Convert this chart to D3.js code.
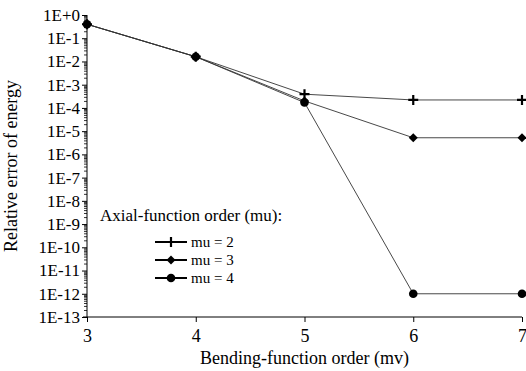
<!DOCTYPE html>
<html>
<head>
<meta charset="utf-8">
<script src="https://cdn.jsdelivr.net/npm/d3@7"></script>
<style>
  body { margin: 0; background: #fff; }
  svg text { font-family: 'Liberation Serif', 'DejaVu Serif', 'Times New Roman', serif; fill: #000; }
  .axis path, .axis line { stroke: #000; }
</style>
</head>
<body>
<div id="chart"></div>
<script>
// bending-function order (mv)
var orders = [3, 4, 5, 6, 7];
// relative error of energy, one list per axial order
var mu2 = [4e-1, 1.6e-2, 3.9e-4, 2.2e-4, 2.2e-4];
var mu3 = [4e-1, 1.6e-2, 2.0e-4, 5.2e-6, 5.2e-6];
var mu4 = [4e-1, 1.6e-2, 1.7e-4, 1e-12, 1e-12];
var seriesNames = ['mu = 2', 'mu = 3', 'mu = 4'];
var yTickLabels = ['1E+0', '1E-1', '1E-2', '1E-3', '1E-4', '1E-5', '1E-6',
                   '1E-7', '1E-8', '1E-9', '1E-10', '1E-11', '1E-12', '1E-13'];

var width = 526, height = 371;
var margin = {top: 15, right: 4, bottom: 54, left: 87};
var chartWidth = width - margin.left - margin.right;
var chartHeight = height - margin.top - margin.bottom;
var fontSize = 18;

var svg = d3.select('#chart').append('svg')
    .attr('width', width)
    .attr('height', height)
  .append('g')
    .attr('transform', `translate(${margin.left}, ${margin.top})`);

var xScale = d3.scaleLinear()
    .domain([3, 7])
    .range([0, chartWidth]);

var yScale = d3.scaleLog()
    .domain([1e-13, 1])
    .range([chartHeight, 0]);

var majors = yTickLabels.map((d, i) => Math.pow(10, -i));

// minor log ticks between decades
var minors = [];
majors.slice(1).forEach(function(m) {
  for (var k = 2; k <= 9; k++) minors.push(m * k);
});

svg.append('g')
  .attr('class', 'y axis minor')
  .call(d3.axisLeft(yScale).tickValues(minors).tickSize(3).tickFormat(''))
  .call(g => g.select('.domain').remove())
  .selectAll('line').attr('stroke-width', 0.8);

var yAxis = d3.axisLeft(yScale)
    .tickValues(majors)
    .tickSize(5)
    .tickPadding(2)
    .tickFormat((d, i) => yTickLabels[i]);

svg.append('g')
  .attr('class', 'y axis')
  .call(yAxis)
  .call(g => g.selectAll('text').attr('font-size', 17))
  .call(g => g.select('.domain').attr('d', `M0,0V${chartHeight}`));

var xAxis = d3.axisBottom(xScale)
    .tickValues(orders)
    .tickSize(5)
    .tickPadding(7)
    .tickFormat(d3.format('d'));

svg.append('g')
  .attr('class', 'x axis')
  .attr('transform', `translate(0, ${chartHeight})`)
  .call(xAxis)
  .call(g => g.selectAll('text').attr('font-size', fontSize))
  .call(g => g.select('.domain').attr('d', `M-4,0H${chartWidth}`));

svg.append('text')
  .attr('x', chartWidth / 2)
  .attr('y', chartHeight + 47)
  .attr('text-anchor', 'middle')
  .attr('font-size', fontSize)
  .text('Bending-function order (mv)');

svg.append('text')
  .attr('transform', `translate(-70, ${chartHeight / 2}) rotate(-90)`)
  .attr('text-anchor', 'middle')
  .attr('font-size', fontSize)
  .text('Relative error of energy');

var series = [mu2, mu3, mu4];

var line = d3.line()
    .x((d, i) => xScale(orders[i]))
    .y(d => yScale(d));

// thin lines first, then markers on top
series.forEach(function(values) {
  svg.append('path')
    .datum(values)
    .attr('fill', 'none')
    .attr('stroke', '#333')
    .attr('stroke-width', 0.9)
    .attr('d', line);
});

function drawMarker(g, idx, x, y) {
  if (idx === 0) {
    // plus sign, thick strokes
    g.append('path')
      .attr('d', `M${x - 5},${y}H${x + 5}M${x},${y - 5}V${y + 5}`)
      .attr('stroke', '#000')
      .attr('stroke-width', 2.2);
  } else if (idx === 1) {
    // square turned 45 degrees
    g.append('path')
      .attr('d', `M${x},${y - 4.5}L${x + 4.5},${y}L${x},${y + 4.5}L${x - 4.5},${y}Z`)
      .attr('fill', '#000');
  } else {
    g.append('circle')
      .attr('cx', x).attr('cy', y).attr('r', 4.3)
      .attr('fill', '#000');
  }
}

series.forEach(function(values, s) {
  var g = svg.append('g').attr('class', 'markers');
  values.forEach(function(v, i) {
    drawMarker(g, s, xScale(orders[i]), yScale(v));
  });
});

// legend
var legend = svg.append('g')
    .attr('transform', `translate(${100 - margin.left}, ${221 - margin.top})`);

legend.append('text')
  .attr('x', 0)
  .attr('y', 0)
  .attr('font-size', 17)
  .text('Axial-function order (mu):');

seriesNames.forEach(function(name, s) {
  var ly = 21 + s * 18;
  legend.append('line')
    .attr('x1', 55).attr('x2', 87)
    .attr('y1', ly).attr('y2', ly)
    .attr('stroke', '#000')
    .attr('stroke-width', 2);
  drawMarker(legend, s, 71, ly);
  legend.append('text')
    .attr('x', 91)
    .attr('y', ly + 5)
    .attr('font-size', 15)
    .text(name);
});
</script>
</body>
</html>
